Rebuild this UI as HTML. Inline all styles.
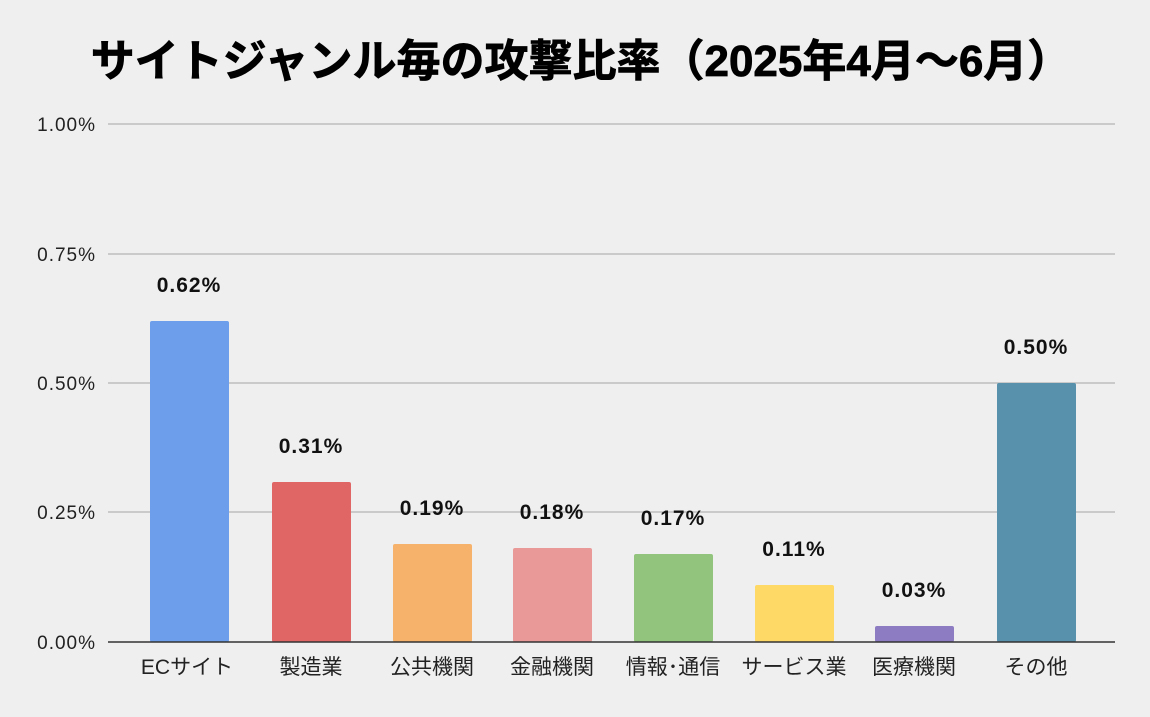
<!DOCTYPE html>
<html><head><meta charset="utf-8"><style>
body{margin:0;background:#efefef;}
svg{display:block}
text{font-family:"Liberation Sans","Noto Sans CJK JP",sans-serif;}
</style></head><body>
<svg width="1150" height="717" viewBox="0 0 1150 717">
<rect width="1150" height="717" fill="#efefef"/>
<text x="581" y="76" text-anchor="middle" font-size="44" font-weight="bold" fill="#000" stroke="#000" stroke-width="0.8">サイトジャンル毎の攻撃比率（2025年4月～6月）</text>
<g stroke="#bdbdbd" stroke-width="1.5">
<line x1="108" x2="1115" y1="124" y2="124"/>
<line x1="108" x2="1115" y1="254" y2="254"/>
<line x1="108" x2="1115" y1="383" y2="383"/>
<line x1="108" x2="1115" y1="512" y2="512"/>
</g>
<g font-size="19" fill="#222" text-anchor="end" letter-spacing="1">
<text x="96" y="131">1.00%</text>
<text x="96" y="261">0.75%</text>
<text x="96" y="390">0.50%</text>
<text x="96" y="519">0.25%</text>
<text x="96" y="649">0.00%</text>
</g>
<g>
<rect x="150" y="321" width="79" height="321" rx="2" fill="#6d9eeb"/>
<rect x="272" y="482" width="79" height="160" rx="2" fill="#e06666"/>
<rect x="393" y="544" width="79" height="98" rx="2" fill="#f6b26b"/>
<rect x="513" y="548" width="79" height="94" rx="2" fill="#ea9999"/>
<rect x="634" y="554" width="79" height="88" rx="2" fill="#93c47d"/>
<rect x="755" y="585" width="79" height="57" rx="2" fill="#ffd966"/>
<rect x="875" y="626" width="79" height="16" rx="2" fill="#8e7cc3"/>
<rect x="997" y="383" width="79" height="259" rx="2" fill="#5791ab"/>
</g>
<line x1="108" x2="1115" y1="642" y2="642" stroke="#333" stroke-width="1.5"/>
<g font-size="21" font-weight="bold" fill="#111" text-anchor="middle" letter-spacing="1">
<text x="189" y="292">0.62%</text>
<text x="311" y="453">0.31%</text>
<text x="432" y="515">0.19%</text>
<text x="552" y="519">0.18%</text>
<text x="673" y="525">0.17%</text>
<text x="794" y="556">0.11%</text>
<text x="914" y="597">0.03%</text>
<text x="1036" y="354">0.50%</text>
</g>
<g font-size="21" fill="#222" text-anchor="middle">
<text x="187" y="674">ECサイト</text>
<text x="311" y="674">製造業</text>
<text x="432" y="674">公共機関</text>
<text x="552" y="674">金融機関</text>
<text x="673" y="674">情報･通信</text>
<text x="794" y="674">サービス業</text>
<text x="914" y="674">医療機関</text>
<text x="1036" y="674">その他</text>
</g>
</svg>
</body></html>
